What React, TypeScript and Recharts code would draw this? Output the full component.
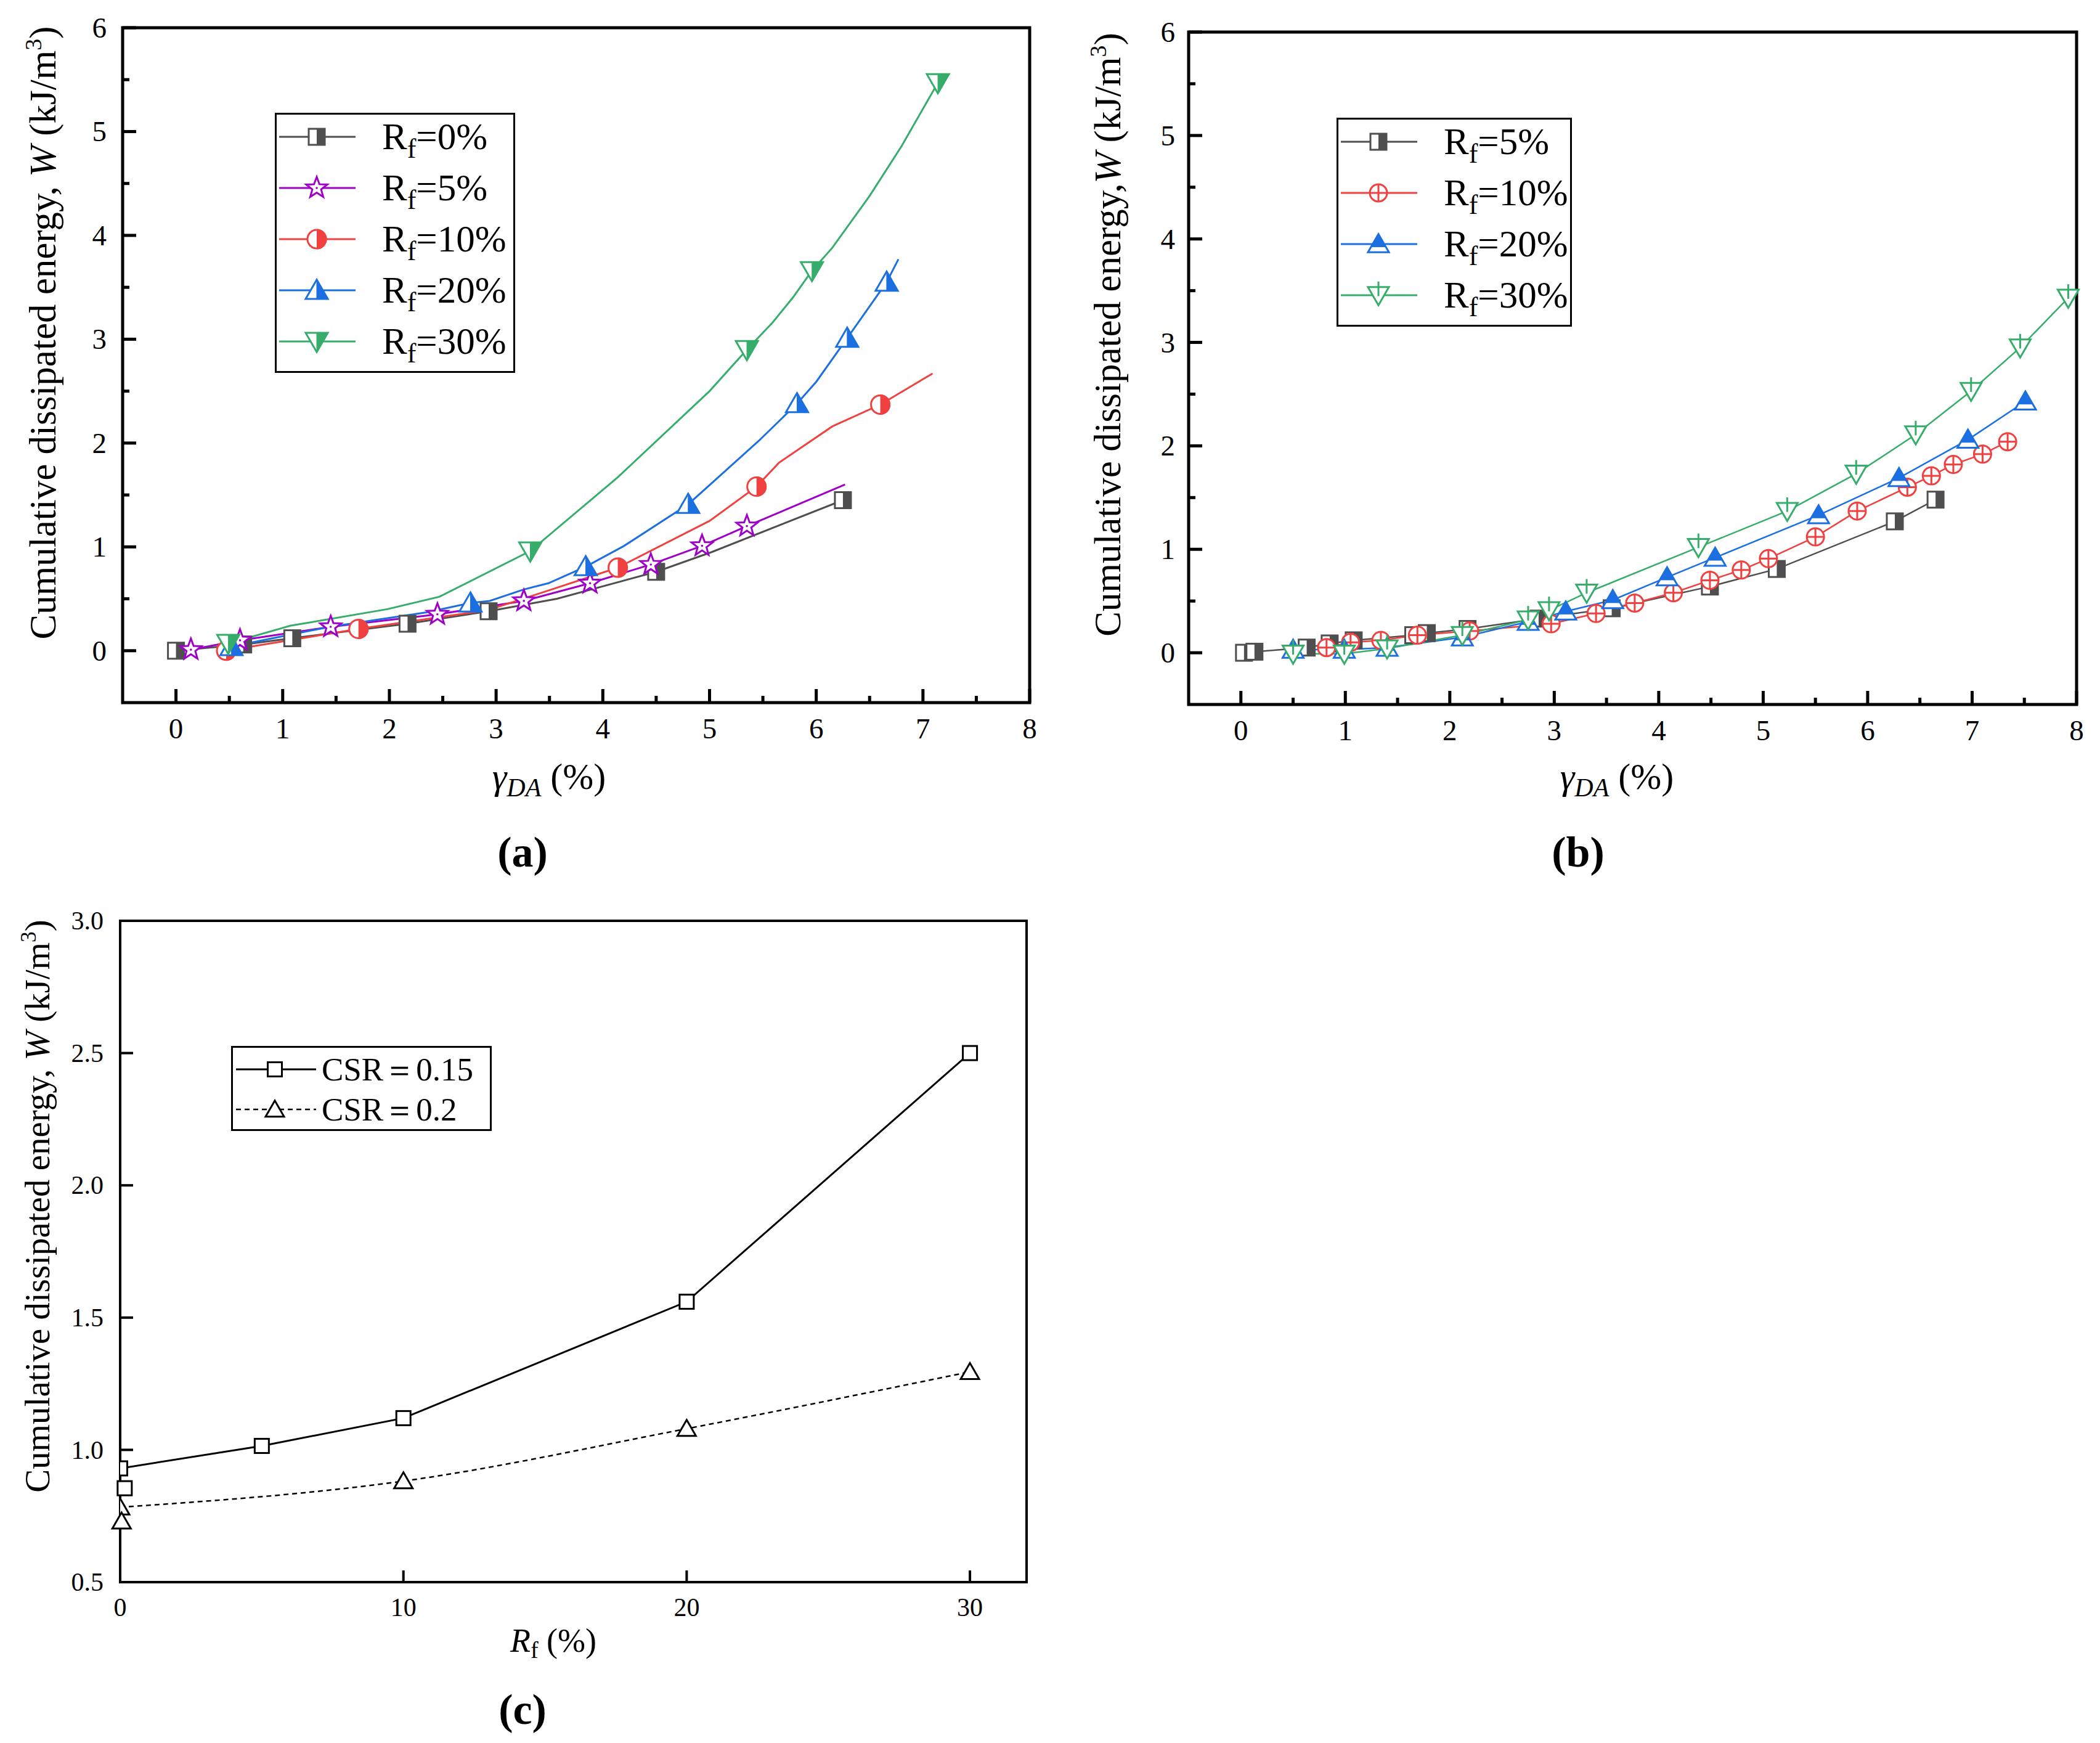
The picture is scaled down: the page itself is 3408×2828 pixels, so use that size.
import React from "react";
import {
  ComposedChart,
  Line,
  Scatter,
  XAxis,
  YAxis,
  ReferenceArea,
  Legend,
} from "recharts";

const SERIF = '"Liberation Serif", "DejaVu Serif", "Times New Roman", serif';

// ---------- (a) ----------
const A_NAMES = ["0%", "5%", "10%", "20%", "30%"];
const A_COLORS = ["#4f4f4f", "#9f00c8", "#f04040", "#1c6fe0", "#36ad6a"];
const A_RF0 = [[0, 0], [0.63, 0.06], [1.09, 0.12], [2.17, 0.26], [2.93, 0.38], [4.5, 0.76], [6.25, 1.45]];
const A_RF0_PATH = [[3.57, 0.5], [5.02, 0.95]];
const A_RF5 = [[0.14, 0.01], [0.6, 0.1], [1.45, 0.23], [2.45, 0.35], [3.26, 0.48], [3.88, 0.65], [4.45, 0.83], [4.93, 1.01], [5.35, 1.2]];
const A_RF5_PATH = [[6.27, 1.6]];
const A_RF10 = [[0.47, 0.0], [1.71, 0.21], [4.14, 0.8], [5.44, 1.58], [6.6, 2.37]];
const A_RF10_PATH = [[2.92, 0.39], [3.49, 0.58], [5.0, 1.25], [5.65, 1.81], [6.15, 2.16], [7.09, 2.67]];
const A_RF20 = [[0.52, 0.04], [2.76, 0.46], [3.84, 0.81], [4.8, 1.41], [5.82, 2.38], [6.29, 3.01], [6.66, 3.55]];
const A_RF20_PATH = [[1.44, 0.23], [2.35, 0.37], [2.94, 0.48], [3.26, 0.59], [3.49, 0.65], [4.2, 1.01], [5.46, 2.02], [6.0, 2.59], [6.77, 3.77]];
const A_RF30 = [[0.49, 0.07], [3.32, 0.96], [5.35, 2.9], [5.96, 3.66], [7.14, 5.47]];
const A_RF30_PATH = [[1.07, 0.24], [1.98, 0.4], [2.47, 0.52], [4.14, 1.67], [5.0, 2.5], [5.59, 3.16], [5.78, 3.4], [6.15, 3.88], [6.5, 4.38], [6.8, 4.86]];

// ---------- (b) ----------
const B_NAMES = ["5%", "10%", "20%", "30%"];
const B_COLORS = ["#4f4f4f", "#f04040", "#1c6fe0", "#36ad6a"];
const B_RF5 = [[0.03, 0.0], [0.13, 0.01], [0.63, 0.05], [0.85, 0.09], [1.08, 0.12], [1.65, 0.17], [1.78, 0.19], [2.17, 0.23], [2.85, 0.33], [3.55, 0.43], [4.49, 0.64], [5.13, 0.81], [6.26, 1.27], [6.65, 1.48]];
const B_RF10 = [[0.82, 0.05], [1.05, 0.1], [1.34, 0.12], [1.69, 0.17], [2.19, 0.21], [2.97, 0.28], [3.4, 0.38], [3.77, 0.48], [4.14, 0.58], [4.49, 0.7], [4.79, 0.8], [5.05, 0.91], [5.5, 1.12], [5.9, 1.37], [6.38, 1.6], [6.61, 1.71], [6.82, 1.82], [7.1, 1.92], [7.34, 2.04]];
const B_RF20 = [[0.5, 0.03], [0.99, 0.03], [1.4, 0.05], [2.12, 0.15], [2.75, 0.3], [3.11, 0.4], [3.56, 0.51], [4.08, 0.73], [4.54, 0.92], [5.53, 1.33], [6.3, 1.69], [6.96, 2.06], [7.51, 2.43]];
const B_RF30 = [[0.5, -0.01], [0.99, -0.01], [1.4, 0.04], [2.12, 0.17], [2.75, 0.32], [2.95, 0.41], [3.31, 0.58], [4.38, 1.02], [5.23, 1.37], [5.89, 1.73], [6.46, 2.11], [6.99, 2.53], [7.46, 2.95], [7.92, 3.43]];

// ---------- (c) ----------
const C_NAMES = ["CSR\uFF1D0.15", "CSR\uFF1D0.2"];
const C_CSR015 = [[0, 0.93], [5, 1.015], [10, 1.12], [20, 1.56], [30, 2.5]];
const C_CSR015_EXTRA = [[0.16, 0.855]];
const C_CSR02 = [[0, 0.783], [10, 0.882], [20, 1.08], [30, 1.295]];
const C_CSR02_EXTRA = [[0.05, 0.73]];

const AB_XTICKS = [0, 0.5, 1, 1.5, 2, 2.5, 3, 3.5, 4, 4.5, 5, 5.5, 6, 6.5, 7, 7.5, 8];
const AB_YTICKS = [0, 0.5, 1, 1.5, 2, 2.5, 3, 3.5, 4, 4.5, 5, 5.5, 6];
const C_XTICKS = [0, 10, 20, 30];
const C_YTICKS = [0.5, 1.0, 1.5, 2.0, 2.5, 3.0];

type P = { x: number; y: number };
const pts = (a: number[][]): P[] => a.map(([x, y]) => ({ x, y }));
const path = (mk: number[][], extra: number[][] = []): P[] =>
  pts([...mk, ...extra].sort((p, q) => p[0] - q[0]));

// ---------- markers ----------
const HalfSquare = (cx: number, cy: number, c: string, s = 26) => (
  <g>
    <rect x={cx - s / 2} y={cy - s / 2} width={s} height={s} fill="#fff" stroke={c} strokeWidth={3} />
    <rect x={cx} y={cy - s / 2} width={s / 2} height={s} fill={c} />
  </g>
);
const starD = (cx: number, cy: number, R: number, r: number) => {
  let d = "";
  for (let i = 0; i < 10; i++) {
    const a = -Math.PI / 2 + (i * Math.PI) / 5;
    const rr = i % 2 ? r : R;
    d += (i ? "L" : "M") + (cx + rr * Math.cos(a)).toFixed(1) + "," + (cy + rr * Math.sin(a)).toFixed(1);
  }
  return d + "Z";
};
const Star = (cx: number, cy: number, c: string) => (
  <g>
    <path d={starD(cx, cy, 18, 7.5)} fill="#fff" stroke={c} strokeWidth={3} strokeLinejoin="miter" />
    <circle cx={cx} cy={cy} r={1.8} fill={c} />
  </g>
);
const HalfCircle = (cx: number, cy: number, c: string, r = 15) => (
  <g>
    <circle cx={cx} cy={cy} r={r} fill="#fff" stroke={c} strokeWidth={3} />
    <path d={`M${cx},${cy - r - 1.5} A${r + 1.5},${r + 1.5} 0 0 1 ${cx},${cy + r + 1.5} Z`} fill={c} />
  </g>
);
const HalfTriUp = (cx: number, cy: number, c: string, s = 36) => {
  const h = s * 0.866, t = cy - h * 0.55, b = cy + h * 0.45;
  return (
    <g>
      <polygon points={`${cx},${t} ${cx + s / 2},${b} ${cx - s / 2},${b}`} fill="#fff" stroke={c} strokeWidth={3} />
      <polygon points={`${cx},${t} ${cx + s / 2},${b} ${cx},${b}`} fill={c} stroke={c} strokeWidth={1} />
    </g>
  );
};
const HalfTriDown = (cx: number, cy: number, c: string, s = 36) => {
  const h = s * 0.866, t = cy - h * 0.45, b = cy + h * 0.55;
  return (
    <g>
      <polygon points={`${cx - s / 2},${t} ${cx + s / 2},${t} ${cx},${b}`} fill="#fff" stroke={c} strokeWidth={3} />
      <polygon points={`${cx},${t} ${cx + s / 2},${t} ${cx},${b}`} fill={c} stroke={c} strokeWidth={1} />
    </g>
  );
};
const PlusCircle = (cx: number, cy: number, c: string, r = 14) => (
  <g stroke={c} strokeWidth={3}>
    <circle cx={cx} cy={cy} r={r} fill="#fff" />
    <line x1={cx - r} x2={cx + r} y1={cy} y2={cy} />
    <line x1={cx} x2={cx} y1={cy - r} y2={cy + r} />
  </g>
);
const TopTriUp = (cx: number, cy: number, c: string, s = 34) => {
  const h = s * 0.866, t = cy - h * 0.55, b = cy + h * 0.45, yb = b - h * 0.3;
  const w = (s * (yb - t)) / h;
  return (
    <g>
      <polygon points={`${cx},${t} ${cx + s / 2},${b} ${cx - s / 2},${b}`} fill="#fff" stroke={c} strokeWidth={3} />
      <polygon points={`${cx},${t} ${cx + w / 2},${yb} ${cx - w / 2},${yb}`} fill={c} stroke={c} strokeWidth={1} />
    </g>
  );
};
const StemTriDown = (cx: number, cy: number, c: string, s = 34) => {
  const h = s * 0.866, t = cy - h * 0.45, b = cy + h * 0.55;
  return (
    <g stroke={c} strokeWidth={3}>
      <polygon points={`${cx - s / 2},${t} ${cx + s / 2},${t} ${cx},${b}`} fill="#fff" />
      <line x1={cx} x2={cx} y1={t - 9} y2={t + h * 0.5} />
    </g>
  );
};
const OpenSquare = (cx: number, cy: number, s = 23) => (
  <rect x={cx - s / 2} y={cy - s / 2} width={s} height={s} fill="#fff" stroke="#000" strokeWidth={3} />
);
const OpenTri = (cx: number, cy: number, s = 30) => {
  const h = s * 0.866, t = cy - h * 0.55, b = cy + h * 0.45;
  return <polygon points={`${cx},${t} ${cx + s / 2},${b} ${cx - s / 2},${b}`} fill="#fff" stroke="#000" strokeWidth={3} />;
};

const A_MARKERS = [HalfSquare, Star, HalfCircle, HalfTriUp, HalfTriDown];
const B_MARKERS = [HalfSquare, PlusCircle, TopTriUp, StemTriDown];
const A_DATA = [
  [A_RF0, A_RF0_PATH],
  [A_RF5, A_RF5_PATH],
  [A_RF10, A_RF10_PATH],
  [A_RF20, A_RF20_PATH],
  [A_RF30, A_RF30_PATH],
];
const B_DATA = [B_RF5, B_RF10, B_RF20, B_RF30];

// ---------- ticks (drawn inward) ----------
const xTick = (bottom: number, fs: number, gap: number, lens: number[], sw: number, fmt: (v: number) => string, isMajor: (v: number) => boolean) =>
  (p: any) => {
    const v = p.payload.value;
    const mj = isMajor(v);
    return (
      <g>
        <line x1={p.x} x2={p.x} y1={bottom} y2={bottom - (mj ? lens[0] : lens[1])} stroke="#000" strokeWidth={sw} />
        {mj && (
          <text x={p.x} y={bottom + gap} textAnchor="middle" fontFamily={SERIF} fontSize={fs} fill="#000">
            {fmt(v)}
          </text>
        )}
      </g>
    );
  };
const yTick = (left: number, fs: number, gap: number, lens: number[], sw: number, fmt: (v: number) => string, isMajor: (v: number) => boolean) =>
  (p: any) => {
    const v = p.payload.value;
    const mj = isMajor(v);
    return (
      <g>
        <line x1={left} x2={left + (mj ? lens[0] : lens[1])} y1={p.y} y2={p.y} stroke="#000" strokeWidth={sw} />
        {mj && (
          <text x={left - gap} y={p.y + fs * 0.34} textAnchor="end" fontFamily={SERIF} fontSize={fs} fill="#000">
            {fmt(v)}
          </text>
        )}
      </g>
    );
  };

const RfText = ({ x, y, v }: { x: number; y: number; v: string }) => (
  <text x={x} y={y} fontFamily={SERIF} fontSize={61} fill="#000">
    R<tspan fontSize={44} dy={14}>f</tspan>
    <tspan dy={-14}>={v}</tspan>
  </text>
);

const LegendAB = ({ w, h, names, colors, markers }: any) => (
  <svg width={w} height={h} style={{ display: "block" }}>
    <rect x={1.5} y={1.5} width={w - 3} height={h - 3} fill="#fff" stroke="#000" strokeWidth={3} />
    {names.map((n: string, i: number) => {
      const cy = 39 + i * 83;
      return (
        <g key={n}>
          <line x1={7} x2={131} y1={cy} y2={cy} stroke={colors[i]} strokeWidth={3} />
          {markers[i](68, cy, colors[i])}
          <RfText x={174} y={cy + 20} v={n} />
        </g>
      );
    })}
  </svg>
);

const LegendC = () => (
  <svg width={423} height={138} style={{ display: "block" }}>
    <rect x={1.5} y={1.5} width={420} height={135} fill="#fff" stroke="#000" strokeWidth={3} />
    <line x1={8} x2={138} y1={38} y2={38} stroke="#000" strokeWidth={3} />
    {OpenSquare(71, 38)}
    <line x1={8} x2={138} y1={103} y2={103} stroke="#000" strokeWidth={2.5} strokeDasharray="8 6" />
    {OpenTri(71, 103)}
    <text x={147} y={56} fontFamily={SERIF} fontSize={53}>{C_NAMES[0]}</text>
    <text x={147} y={121} fontFamily={SERIF} fontSize={53}>{C_NAMES[1]}</text>
  </svg>
);

const intFmt = (v: number) => String(v);
const isInt = (v: number) => Number.isInteger(v);

function PanelA() {
  const L = 199, B = 1140;
  return (
    <ComposedChart width={1720} height={1300} margin={{ top: 45, right: 49, bottom: 60, left: 49 }}>
      <XAxis type="number" dataKey="x" domain={[-0.5, 8]} ticks={AB_XTICKS} interval={0} height={100}
        axisLine={false} tickLine={false} tick={xTick(B, 47, 58, [22, 11], 5, intFmt, isInt)} />
      <YAxis type="number" dataKey="y" domain={[-0.5, 6]} ticks={AB_YTICKS} interval={0} width={150}
        axisLine={false} tickLine={false} tick={yTick(L, 47, 26, [22, 11], 5, intFmt, isInt)} />
      <ReferenceArea x1={-0.5} x2={8} y1={-0.5} y2={6} fill="none" stroke="#000" strokeWidth={5} />
      {A_DATA.map(([mk, ex], i) => (
        <Line key={"l" + i} data={path(mk, ex)} dataKey="y" type="linear" stroke={A_COLORS[i]} strokeWidth={3}
          dot={false} activeDot={false} isAnimationActive={false} />
      ))}
      {A_DATA.map(([mk], i) => (
        <Scatter key={"s" + i} data={pts(mk)} dataKey="y" isAnimationActive={false}
          shape={(p: any) => A_MARKERS[i](p.cx, p.cy, A_COLORS[i])} />
      ))}
      <Legend layout="vertical" align="center" verticalAlign="middle"
        wrapperStyle={{ left: 446, top: 183, width: 390, height: 422 }}
        content={() => <LegendAB w={390} h={422} names={A_NAMES} colors={A_COLORS} markers={A_MARKERS} />} />
    </ComposedChart>
  );
}

function PanelB() {
  const L = 225, B = 1143;
  return (
    <ComposedChart width={1704} height={1300} margin={{ top: 52, right: 38, bottom: 57, left: 75 }}>
      <XAxis type="number" dataKey="x" domain={[-0.5, 8]} ticks={AB_XTICKS} interval={0} height={100}
        axisLine={false} tickLine={false} tick={xTick(B, 47, 58, [22, 11], 5, intFmt, isInt)} />
      <YAxis type="number" dataKey="y" domain={[-0.5, 6]} ticks={AB_YTICKS} interval={0} width={150}
        axisLine={false} tickLine={false} tick={yTick(L, 47, 22, [22, 11], 5, intFmt, isInt)} />
      <ReferenceArea x1={-0.5} x2={8} y1={-0.5} y2={6} fill="none" stroke="#000" strokeWidth={5} />
      {B_DATA.map((d, i) => (
        <Line key={"l" + i} data={pts(d)} dataKey="y" type="linear" stroke={B_COLORS[i]} strokeWidth={2.5}
          dot={false} activeDot={false} isAnimationActive={false} />
      ))}
      {B_DATA.map((d, i) => (
        <Scatter key={"s" + i} data={pts(d)} dataKey="y" isAnimationActive={false}
          shape={(p: any) => B_MARKERS[i](p.cx, p.cy, B_COLORS[i])} />
      ))}
      <Legend layout="vertical" align="center" verticalAlign="middle"
        wrapperStyle={{ left: 465, top: 191, width: 382, height: 339 }}
        content={() => <LegendAB w={382} h={339} names={B_NAMES} colors={B_COLORS} markers={B_MARKERS} />} />
    </ComposedChart>
  );
}

function PanelC() {
  const L = 195, B = 1147;
  return (
    <ComposedChart width={1704} height={1408} margin={{ top: 74, right: 38, bottom: 161, left: 45 }}>
      <XAxis type="number" dataKey="x" domain={[0, 32]} ticks={C_XTICKS} interval={0} height={100} allowDataOverflow
        axisLine={false} tickLine={false} tick={xTick(B, 42, 55, [19, 19], 4, intFmt, () => true)} />
      <XAxis xAxisId="free" type="number" dataKey="x" domain={[0, 32]} hide />
      <YAxis type="number" dataKey="y" domain={[0.5, 3]} ticks={C_YTICKS} interval={0} width={150} allowDataOverflow
        axisLine={false} tickLine={false} tick={yTick(L, 42, 27, [21, 21], 4, (v) => v.toFixed(1), () => true)} />
      <ReferenceArea x1={0} x2={32} y1={0.5} y2={3} fill="none" stroke="#000" strokeWidth={4} />
      <Line data={pts(C_CSR015)} dataKey="y" type="linear" stroke="#000" strokeWidth={3}
        dot={false} activeDot={false} isAnimationActive={false} />
      <Line data={pts(C_CSR02)} dataKey="y" type="monotone" stroke="#000" strokeWidth={2.5} strokeDasharray="8 6"
        dot={false} activeDot={false} isAnimationActive={false} />
      <Scatter data={pts(C_CSR015)} dataKey="y" isAnimationActive={false} shape={(p: any) => OpenSquare(p.cx, p.cy)} />
      <Scatter data={pts(C_CSR02)} dataKey="y" isAnimationActive={false} shape={(p: any) => OpenTri(p.cx, p.cy)} />
      <Scatter xAxisId="free" data={pts(C_CSR015_EXTRA)} dataKey="y" isAnimationActive={false} shape={(p: any) => OpenSquare(p.cx, p.cy)} />
      <Scatter xAxisId="free" data={pts(C_CSR02_EXTRA)} dataKey="y" isAnimationActive={false} shape={(p: any) => OpenTri(p.cx, p.cy)} />
      <Legend layout="vertical" align="center" verticalAlign="middle"
        wrapperStyle={{ left: 375, top: 277, width: 423, height: 138 }}
        content={() => <LegendC />} />
    </ComposedChart>
  );
}

const yTitle = (x: number, y: number, fs: number, sep: string) => (
  <text transform={`translate(${x},${y}) rotate(-90)`} textAnchor="middle" fontFamily={SERIF} fontSize={fs} fill="#000">
    Cumulative dissipated energy{sep}<tspan fontStyle="italic">W</tspan> (kJ/m
    <tspan dy={-fs * 0.38} fontSize={fs * 0.62}>3</tspan>
    <tspan dy={fs * 0.38}>)</tspan>
  </text>
);
const gammaTitle = (x: number, y: number) => (
  <text x={x} y={y} textAnchor="middle" fontFamily={SERIF} fontSize={60} fill="#000">
    <tspan fontStyle="italic">γ</tspan>
    <tspan fontStyle="italic" fontSize={42} dy={12}>DA</tspan>
    <tspan dy={-12}> (%)</tspan>
  </text>
);

export default function App() {
  return (
    <div style={{ position: "absolute", left: 0, top: 0, width: 3408, height: 2828, background: "#fff", overflow: "hidden" }}>
      <div style={{ position: "absolute", left: 0, top: 0 }}><PanelA /></div>
      <div style={{ position: "absolute", left: 1704, top: 0 }}><PanelB /></div>
      <div style={{ position: "absolute", left: 0, top: 1420 }}><PanelC /></div>
      <svg width={3408} height={2828} style={{ position: "absolute", left: 0, top: 0, pointerEvents: "none" }}>
        {yTitle(90, 540, 61, ", ")}
        {yTitle(1818, 543, 61, ",")}
        {yTitle(80, 1957, 57, ", ")}
        {gammaTitle(891, 1280)}
        {gammaTitle(2624, 1280)}
        <text x={898} y={2680} textAnchor="middle" fontFamily={SERIF} fontSize={54} fill="#000">
          <tspan fontStyle="italic">R</tspan>
          <tspan fontSize={38} dy={10}>f</tspan>
          <tspan dy={-10}> (%)</tspan>
        </text>
        <text x={848} y={1406} textAnchor="middle" fontFamily={SERIF} fontSize={70} fontWeight="bold">(a)</text>
        <text x={2561} y={1406} textAnchor="middle" fontFamily={SERIF} fontSize={70} fontWeight="bold">(b)</text>
        <text x={848} y={2797} textAnchor="middle" fontFamily={SERIF} fontSize={70} fontWeight="bold">(c)</text>
      </svg>
    </div>
  );
}
